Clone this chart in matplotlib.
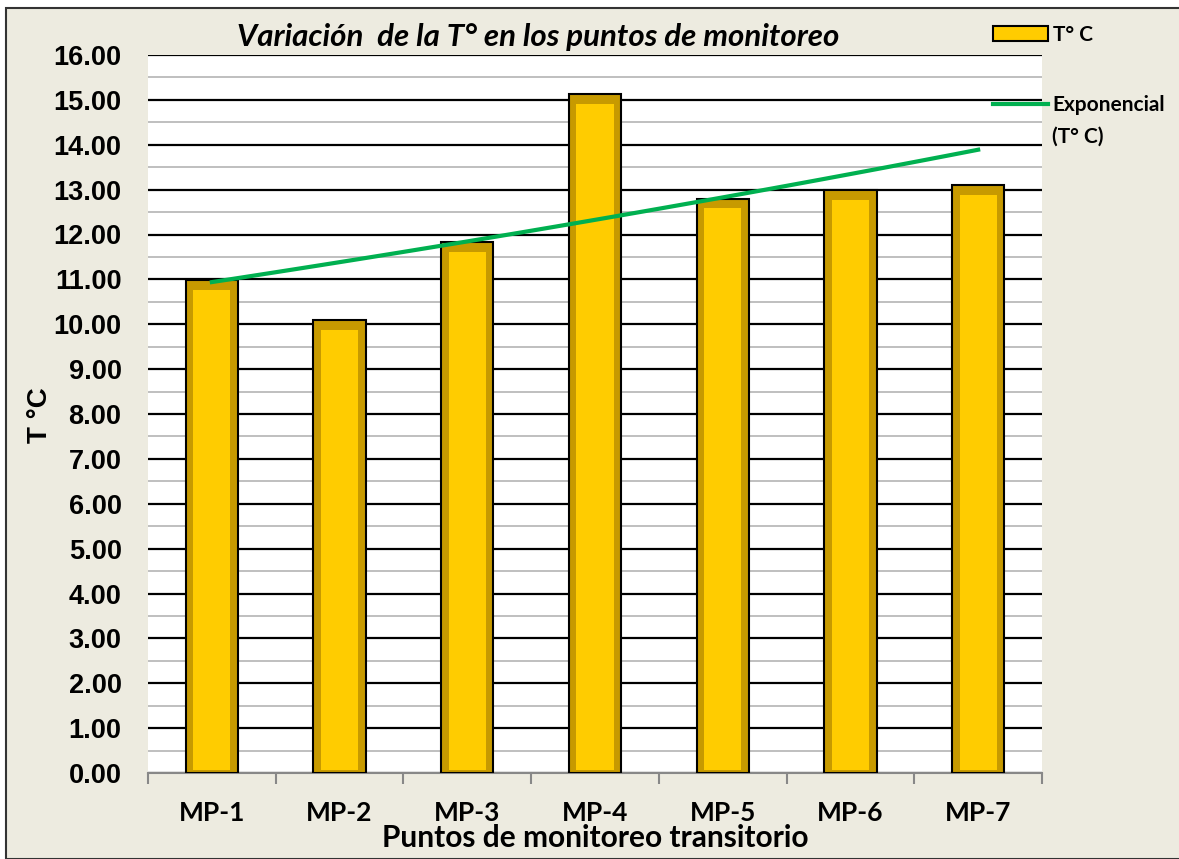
import numpy as np
import matplotlib
matplotlib.use("Agg")
import matplotlib.pyplot as plt
from matplotlib.patches import Rectangle
from matplotlib.lines import Line2D

# =========================
# DATA
# =========================
categories = ["MP-1", "MP-2", "MP-3", "MP-4", "MP-5", "MP-6", "MP-7"]
temps = [10.98, 10.10, 11.83, 15.12, 12.80, 12.99, 13.11]

TITLE = "Variación  de la T° en los puntos de monitoreo"
X_LABEL = "Puntos de monitoreo transitorio"
Y_LABEL = "T °C"
BAR_LABEL = "T° C"
TREND_LABEL = "Exponencial"
TREND_LABEL_2 = "(T° C)"

BG = "#EDEBE0"
GOLD = "#FFCC00"
GOLD_DARK = "#C79A00"
GREEN = "#00B050"

# =========================
# PLOT
# =========================
fig = plt.figure(figsize=(11.79, 8.59), dpi=100, facecolor="white")
fig.patches.append(Rectangle((6 / 1179, 0), 1, 1 - 8 / 859, transform=fig.transFigure,
                             facecolor=BG, edgecolor="#333333", linewidth=1.5, zorder=-10))

ax = fig.add_axes([148 / 1179, 1 - 773 / 859, (1042 - 148) / 1179, (773 - 55) / 859])
ax.set_facecolor("white")

x = np.arange(len(categories))
vals = np.array(temps)

# bars: dark bevel outer + bright inner face
ax.bar(x, vals, width=0.41, color=GOLD_DARK, edgecolor="black", linewidth=1.5, zorder=3)
ax.bar(x, vals - 0.28, bottom=0.06, width=0.29, color=GOLD, linewidth=0, zorder=4)

# exponential trendline (least squares on log values, like Excel)
b, a = np.polyfit(x, np.log(vals), 1)
xt = np.linspace(x[0], x[-1], 50)
ax.plot(xt, np.exp(a + b * xt), color=GREEN, linewidth=3, zorder=5)

ax.set_xlim(-0.5, len(categories) - 0.5)
ax.set_ylim(0, 16)
ax.set_yticks(np.arange(0, 17, 1))
ax.set_yticklabels([f"{v:.2f}" for v in range(0, 17)],
                   fontfamily="Liberation Sans", fontweight="bold", fontsize=19.5)
ax.set_yticks(np.arange(0.5, 16, 1), minor=True)
ax.grid(axis="y", which="major", color="black", linewidth=1.6, zorder=1)
ax.grid(axis="y", which="minor", color="#BFBFBF", linewidth=1.4, zorder=1)
ax.tick_params(axis="y", which="both", length=0, pad=19)

ax.set_xticks(x)
ax.set_xticklabels(categories, fontfamily="Lato", fontweight="bold", fontsize=19)
ax.set_xticks(np.arange(-0.5, len(categories), 1), minor=True)
ax.tick_params(axis="x", which="major", length=0, pad=20)
ax.tick_params(axis="x", which="minor", length=8, width=1.5, color="#888888")

for s in ["top", "right", "left"]:
    ax.spines[s].set_visible(False)
ax.spines["bottom"].set_color("#888888")
ax.spines["bottom"].set_linewidth(1.5)

fig.text(595 / 1179, 1 - 838 / 859, X_LABEL, ha="center", va="center",
         fontfamily="Lato", fontweight="bold", fontsize=21.5)
fig.text(40 / 1179, 1 - 415 / 859, Y_LABEL, rotation=90, ha="center", va="center",
         fontfamily="Liberation Sans", fontweight="bold", fontsize=20)
fig.text(538 / 1179, 1 - 37 / 859, TITLE, ha="center", va="center",
         fontfamily="Lato", fontweight="bold", fontstyle="italic", fontsize=22.5)

# legend entries, placed one by one
leg_prop = {"family": "Lato", "weight": "bold", "size": 15}
bar_handle = Rectangle((0, 0), 1, 1, facecolor=GOLD, edgecolor="black", linewidth=1.5)
line_handle = Line2D([0], [0], color=GREEN, linewidth=3)
leg1 = fig.legend([bar_handle], [BAR_LABEL], loc="center left",
                  bbox_to_anchor=(983 / 1179, 1 - 35 / 859), frameon=False, prop=leg_prop,
                  handlelength=2.6, handleheight=0.75, handletextpad=0.25, borderpad=0)
fig.legend([line_handle], [TREND_LABEL], loc="center left",
           bbox_to_anchor=(983 / 1179, 1 - 105 / 859), frameon=False, prop=leg_prop,
           handlelength=2.6, handletextpad=0.25, borderpad=0)
fig.text(1052 / 1179, 1 - 137 / 859, TREND_LABEL_2, ha="left", va="center",
         fontfamily="Lato", fontweight="bold", fontsize=15)

fig.savefig("out.png", dpi=100, facecolor=fig.get_facecolor())
